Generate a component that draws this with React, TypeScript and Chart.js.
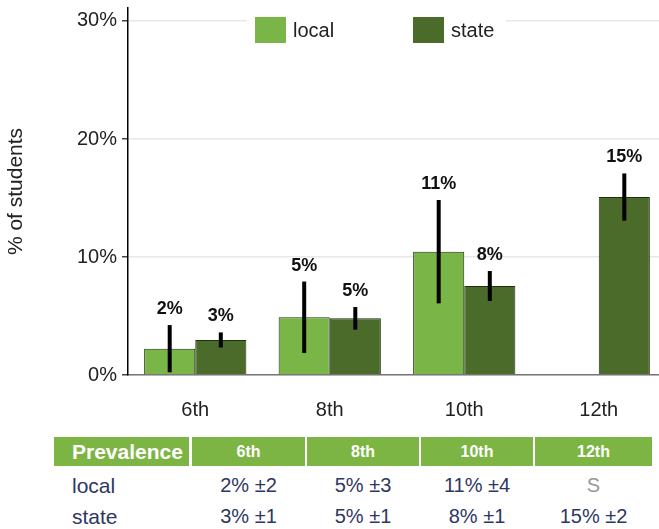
import React, { useEffect, useRef } from "react";
import { Chart, registerables } from "chart.js";

Chart.register(...registerables);

const grades = ["6th", "8th", "10th", "12th"];
const localValues: (number | null)[] = [2.23, 4.89, 10.45, null];
const localErrors: (number | null)[] = [2.0, 3.03, 4.38, null];
const localLabels: (string | null)[] = ["2%", "5%", "11%", null];
const stateValues: (number | null)[] = [2.97, 4.8, 7.54, 15.08];
const stateErrors: (number | null)[] = [0.64, 0.96, 1.27, 2.0];
const stateLabels: (string | null)[] = ["3%", "5%", "8%", "15%"];
const yTicks = [0, 10, 20, 30];

const tableHeader = ["Prevalence", "6th", "8th", "10th", "12th"];
const tableLocal = ["local", "2% ±2", "5% ±3", "11% ±4", "S"];
const tableState = ["state", "3% ±1", "5% ±1", "8% ±1", "15% ±2"];

const LOCAL_COLOR = "#7ab547";
const STATE_COLOR = "#4b6b2b";
const FONT = "'Liberation Sans', Arial, sans-serif";

const errorLabelPlugin = {
  id: "errorLabels",
  afterDatasetsDraw(chart: any) {
    const ctx = chart.ctx;
    const y = chart.scales.y;
    const errs = [localErrors, stateErrors];
    const labs = [localLabels, stateLabels];
    chart.data.datasets.forEach((ds: any, di: number) => {
      const meta = chart.getDatasetMeta(di);
      meta.data.forEach((el: any, i: number) => {
        const v = ds.data[i];
        const e = errs[di][i];
        if (v == null || e == null) return;
        const top = y.getPixelForValue(v + e);
        const bot = y.getPixelForValue(v - e);
        ctx.save();
        ctx.strokeStyle = "#000";
        ctx.lineWidth = 4;
        ctx.beginPath();
        ctx.moveTo(el.x, top);
        ctx.lineTo(el.x, bot);
        ctx.stroke();
        const lab = labs[di][i];
        if (lab) {
          ctx.fillStyle = "#111";
          ctx.font = `bold 18px ${FONT}`;
          ctx.textAlign = "center";
          ctx.textBaseline = "alphabetic";
          ctx.fillText(lab, el.x, top - 11);
        }
        ctx.restore();
      });
    });
  },
};

const legendPlugin = {
  id: "customLegend",
  afterDraw(chart: any) {
    const ctx = chart.ctx;
    ctx.save();
    ctx.fillStyle = "#fff";
    ctx.fillRect(247, 12, 259, 36);
    const items = [
      { x: 255, text: chart.data.datasets[0].label, color: LOCAL_COLOR },
      { x: 413, text: chart.data.datasets[1].label, color: STATE_COLOR },
    ];
    items.forEach((it) => {
      ctx.fillStyle = it.color;
      ctx.fillRect(it.x, 17, 31, 26);
      ctx.fillStyle = "#222";
      ctx.font = `20px ${FONT}`;
      ctx.textAlign = "left";
      ctx.textBaseline = "middle";
      ctx.fillText(it.text, it.x + 38, 31);
    });
    ctx.restore();
  },
};

function ChartCanvas() {
  const ref = useRef<HTMLCanvasElement>(null);
  useEffect(() => {
    if (!ref.current) return;
    const chart = new Chart(ref.current, {
      type: "bar",
      data: {
        labels: grades,
        datasets: [
          {
            label: "local",
            data: localValues,
            backgroundColor: LOCAL_COLOR,
            borderColor: "#1f3010",
            borderWidth: 1,
            categoryPercentage: 0.76,
            barPercentage: 1.0,
          },
          {
            label: "state",
            data: stateValues,
            backgroundColor: STATE_COLOR,
            borderColor: "#1f3010",
            borderWidth: 1,
            categoryPercentage: 0.76,
            barPercentage: 1.0,
          },
        ],
      },
      options: {
        responsive: false,
        maintainAspectRatio: false,
        animation: false,
        layout: { padding: { top: 8, left: 0, right: 1, bottom: 0 } },
        plugins: {
          legend: { display: false },
          tooltip: { enabled: false },
        },
        scales: {
          x: {
            afterFit: (scale: any) => {
              scale.height = 47;
              scale.paddingLeft = 0;
              scale.paddingRight = 0;
            },
            grid: { drawOnChartArea: false, drawTicks: false },
            border: { display: true, color: "#777", width: 1.5 },
            ticks: {
              color: "#222",
              font: { family: FONT, size: 20 },
              padding: 23,
            },
          },
          y: {
            min: 0,
            max: 31.1,
            afterBuildTicks: (scale: any) => {
              scale.ticks = yTicks.map((v) => ({ value: v }));
            },
            afterFit: (scale: any) => {
              scale.width = 128;
              scale.paddingTop = 0;
              scale.paddingBottom = 0;
            },
            grid: {
              color: "#e8e8e8",
              lineWidth: 1.5,
              tickColor: "#444",
              tickLength: 6,
            },
            border: { display: true, color: "#000", width: 1.5 },
            ticks: {
              color: "#222",
              font: { family: FONT, size: 20 },
              padding: 5,
              callback: (v: any) => `${v}%`,
            },
            title: {
              display: true,
              text: "% of students",
              color: "#222",
              font: { family: FONT, size: 21 },
              padding: { top: 4, bottom: 0 },
            },
          },
        },
      },
      plugins: [errorLabelPlugin, legendPlugin],
    });
    return () => chart.destroy();
  }, []);
  return <canvas ref={ref} width={667} height={422} style={{ display: "block" }} />;
}

const colLeft = [54, 192, 307, 421, 535];
const colWidth = [135, 113, 112, 112, 117];

export default function App() {
  const cellBase: React.CSSProperties = {
    position: "absolute",
    boxSizing: "border-box",
    fontFamily: FONT,
    display: "flex",
    alignItems: "center",
  };
  return (
    <div
      style={{
        position: "fixed",
        left: 0,
        top: 0,
        width: 659,
        height: 529,
        overflow: "hidden",
        background: "#fff",
      }}
    >
      <div style={{ position: "absolute", left: 0, top: 0 }}>
        <ChartCanvas />
      </div>
      {tableHeader.map((h, i) => (
        <div
          key={"h" + i}
          style={{
            ...cellBase,
            left: colLeft[i],
            top: 437,
            width: colWidth[i],
            height: 29,
            background: "#7db544",
            color: "#fff",
            fontWeight: "bold",
            fontSize: i === 0 ? 21 : 16,
            justifyContent: i === 0 ? "flex-start" : "center",
            paddingLeft: i === 0 ? 18 : 0,
            paddingTop: 1,
          }}
        >
          {h}
        </div>
      ))}
      {[tableLocal, tableState].map((row, r) =>
        row.map((c, i) => (
          <div
            key={"r" + r + "c" + i}
            style={{
              ...cellBase,
              left: colLeft[i],
              top: 470 + r * 31,
              width: colWidth[i],
              height: 31,
              color: c === "S" ? "#999" : "#2e3763",
              fontSize: i === 0 ? 21 : 20,
              justifyContent: i === 0 ? "flex-start" : "center",
              paddingLeft: i === 0 ? 18 : 0,
            }}
          >
            {c}
          </div>
        ))
      )}
    </div>
  );
}
